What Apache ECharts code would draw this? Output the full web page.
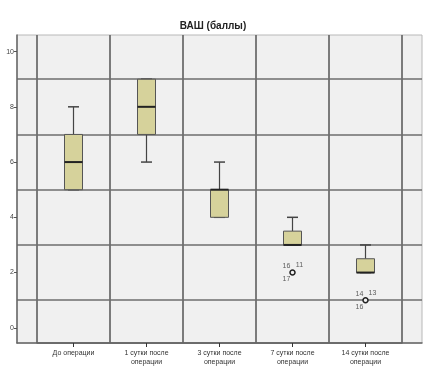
<!DOCTYPE html>
<html>
<head>
<meta charset="utf-8">
<script src="https://cdn.jsdelivr.net/npm/echarts@6/dist/echarts.min.js"></script>
<style>
html,body{margin:0;padding:0;background:#fff;}
#main{width:426px;height:368px;}
</style>
</head>
<body>
<div id="main"></div>
<script>
// ВАШ (баллы) - боксплоты по срокам
var categories = ['До операции', '1 сутки после\nоперации', '3 сутки после\nоперации', '7 сутки после\nоперации', '14 сутки после\nоперации'];
var lowArr  = [5, 6, 4, 3, 2];
var q1Arr   = [5, 7, 4, 3, 2];
var medArr  = [6, 8, 5, 3, 2];
var q3Arr   = [7, 9, 5, 3.5, 2.5];
var highArr = [8, 9, 6, 4, 3];
var outliers = [[3, 2], [4, 1]];
var caseLeft  = ['16', '14'];
var caseRight = ['11', '13'];
var caseBelow = ['17', '16'];
var yLabels = [0, 2, 4, 6, 8, 10];
var yGrid = [1, 3, 5, 7, 9];

var boxData = [];
for (var i = 0; i < categories.length; i++) {
  boxData.push([i, lowArr[i], q1Arr[i], medArr[i], q3Arr[i], highArr[i]]);
}

var myChart = echarts.init(document.getElementById('main'));
var font = 'Liberation Sans, Arial, sans-serif';

function renderBox(params, api) {
  var x = api.value(0);
  var pLow = api.coord([x, api.value(1)]);
  var pQ1 = api.coord([x, api.value(2)]);
  var pMed = api.coord([x, api.value(3)]);
  var pQ3 = api.coord([x, api.value(4)]);
  var pHigh = api.coord([x, api.value(5)]);
  var hw = 9, cw = 5.5;
  var cx = pMed[0];
  var line = {stroke: '#444', lineWidth: 1.2};
  return {
    type: 'group',
    children: [
      {type: 'line', shape: {x1: cx, y1: pHigh[1], x2: cx, y2: pQ3[1]}, style: line},
      {type: 'line', shape: {x1: cx, y1: pLow[1], x2: cx, y2: pQ1[1]}, style: line},
      {type: 'line', shape: {x1: cx - cw, y1: pHigh[1], x2: cx + cw, y2: pHigh[1]}, style: {stroke: '#444', lineWidth: 1.5}},
      {type: 'line', shape: {x1: cx - cw, y1: pLow[1], x2: cx + cw, y2: pLow[1]}, style: {stroke: '#444', lineWidth: 1.5}},
      {type: 'rect', shape: {x: cx - hw, y: pQ3[1], width: hw * 2, height: pQ1[1] - pQ3[1]},
        style: {fill: '#d6d29b', stroke: '#555', lineWidth: 1}},
      {type: 'line', shape: {x1: cx - hw, y1: pMed[1], x2: cx + hw, y2: pMed[1]}, style: {stroke: '#222', lineWidth: 2}}
    ]
  };
}

function caseSeries(arr, ox, oy) {
  return {
    type: 'scatter', xAxisIndex: 1, yAxisIndex: 2,
    data: outliers, symbolSize: 0, silent: true,
    label: {
      show: true, position: 'inside', offset: [ox, oy],
      fontSize: 7, fontFamily: font, color: '#333',
      formatter: function (p) { return arr[p.dataIndex]; }
    },
    z: 5
  };
}

myChart.setOption({
  animation: false,
  title: {
    text: 'ВАШ (баллы)', left: 'center', top: 16,
    textStyle: {fontSize: 10, fontWeight: 'bold', fontFamily: font, color: '#222'}
  },
  grid: [
    {left: 17, right: 4, top: 35, bottom: 25, show: true, backgroundColor: '#f0f0f0', borderColor: '#b8b8b8', borderWidth: 1},
    {left: 37, right: 24, top: 35, bottom: 25}
  ],
  xAxis: [
    {gridIndex: 0, type: 'value', min: 0, max: 1, axisLabel: {show: false}, axisTick: {show: false}, splitLine: {show: false},
      axisLine: {show: true, onZero: false, lineStyle: {color: '#666', width: 1.5}}},
    {gridIndex: 1, type: 'category', data: categories, boundaryGap: true, position: 'bottom',
      axisLine: {show: true, onZero: false, lineStyle: {color: '#666', width: 1.5}},
      axisTick: {show: true, alignWithLabel: true, length: 4, lineStyle: {color: '#333', width: 1}},
      axisLabel: {fontSize: 7, fontFamily: font, color: '#333', margin: 6, lineHeight: 9, interval: 0},
      splitLine: {show: true, lineStyle: {color: '#6e6e6e', width: 1.8}}}
  ],
  yAxis: [
    {gridIndex: 0, type: 'value', min: -0.55, max: 10.6,
      axisLine: {show: true, onZero: false, lineStyle: {color: '#666', width: 1.5}},
      axisTick: {show: true, length: 3, customValues: yLabels, lineStyle: {color: '#555'}},
      axisLabel: {customValues: yLabels, fontSize: 7, fontFamily: font, color: '#444', margin: 3},
      splitLine: {show: false}},
    {gridIndex: 0, type: 'value', min: -0.55, max: 10.6,
      axisLine: {show: false}, axisLabel: {show: false},
      axisTick: {show: false, customValues: yGrid},
      splitLine: {show: true, lineStyle: {color: '#6e6e6e', width: 1.5}}},
    {gridIndex: 1, type: 'value', min: -0.55, max: 10.6, show: false}
  ],
  series: [
    {type: 'custom', xAxisIndex: 1, yAxisIndex: 2, renderItem: renderBox, data: boxData, z: 3},
    {type: 'scatter', xAxisIndex: 1, yAxisIndex: 2, data: outliers, symbol: 'circle', symbolSize: 5,
      itemStyle: {color: '#f0f0f0', borderColor: '#222', borderWidth: 1.5, opacity: 1}, z: 6},
    caseSeries(caseLeft, -6, -6),
    caseSeries(caseRight, 7, -7),
    caseSeries(caseBelow, -6, 7)
  ]
});
</script>
</body>
</html>
